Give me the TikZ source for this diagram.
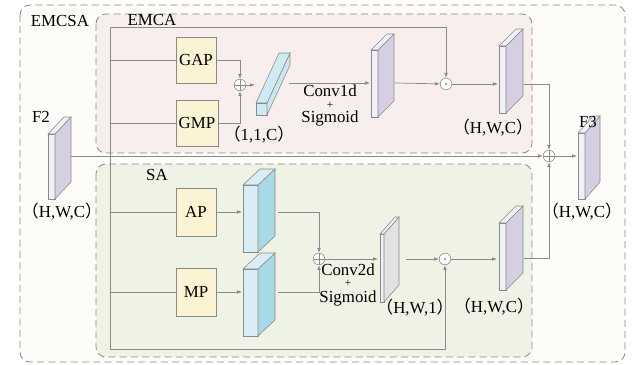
\documentclass[tikz,border=0pt]{standalone}
\usepackage{fontspec}
\setmainfont{Liberation Serif}
\newfontfamily\cjk{Noto Sans CJK SC}
\usetikzlibrary{arrows.meta,calc,positioning}
\definecolor{boxline}{HTML}{8A8A8A}
\definecolor{outerbg}{HTML}{FDFCF9}
\definecolor{emcabg}{HTML}{F8EEEE}
\definecolor{sabg}{HTML}{EFF3E5}
\definecolor{poolbg}{HTML}{FBF3D4}
\definecolor{mapfront}{HTML}{F1F0F6}
\definecolor{mapside}{HTML}{D6CFE2}
\definecolor{bluefront}{HTML}{D8EEF4}
\definecolor{blueside}{HTML}{A9D8E6}
\definecolor{grayside}{HTML}{E2E2E2}
% feature map: x, y (front bottom-left), w, h, dx, dy, front, side
\newcommand{\fmap}[8]{%
  \filldraw[draw=boxline,fill=#7] (#1,#2) rectangle ++(#3,-#4);
  \filldraw[draw=boxline,fill=#8] (#1+#3,#2) -- ++(#5,-#6) -- ++(0,-#4) -- ++(-#5,#6) -- cycle;
  \filldraw[draw=boxline,fill=#7] (#1,#2-#4) -- ++(#5,-#6) -- ++(#3,0) -- ++(-#5,#6) -- cycle;
}
\newcommand{\shape}[1]{{\cjk （}#1{\cjk ）}}

\begin{document}
\begin{tikzpicture}[x=0.025cm,y=-0.025cm,font=\fontsize{12}{12}\selectfont]
\tikzset{>={Latex[length=3.5pt,width=2.6pt]},
  region/.style={draw=boxline, line width=0.6pt, dash pattern=on 5pt off 3pt, rounded corners=7pt},
  pool/.style={draw=boxline, fill=poolbg, minimum width=1cm, minimum height=1.15cm, inner sep=0pt},
  wire/.style={draw=boxline, line width=0.5pt},
  txt/.style={inner sep=0pt},
  oplus/.style={circle, draw=boxline, fill=white, minimum size=0.29cm, inner sep=0pt,
    path picture={\draw[boxline] (path picture bounding box.north) -- (path picture bounding box.south)
      (path picture bounding box.west) -- (path picture bounding box.east);}},
  odot/.style={circle, draw=boxline, fill=white, minimum size=0.29cm, inner sep=0pt,
    path picture={\fill[black!70] (path picture bounding box.center) circle (0.6pt);}}}
\useasboundingbox (0,0) rectangle (632,365);

  % regions
  \draw[region, fill=outerbg] (20,5) rectangle (625,362);
  \draw[region, fill=emcabg] (96,14) rectangle (532,153);
  \draw[region, fill=sabg] (96,164) rectangle (532,357);
  \node (emcsa) at (60,21) {EMCSA};
  \node (emca) at (152,20) {EMCA};
  \node (sa) at (157,175) {SA};

  % feature maps
  \fmap{48}{199}{7}{65}{16}{17}{mapfront}{mapside}
  \fmap{371}{117}{7}{67}{16}{16}{mapfront}{mapside}
  \fmap{499}{113}{7}{67}{17}{17}{mapfront}{mapside}
  \fmap{578}{199}{7}{66}{15}{17}{mapfront}{mapside}
  \fmap{380}{302}{4}{68}{15}{17}{mapfront}{grayside}
  \fmap{499}{290}{7}{67}{17}{17}{mapfront}{mapside}
  \fmap{243}{252}{15}{67}{17}{16}{bluefront}{blueside}
  \fmap{243}{336}{15}{67}{17}{16}{bluefront}{blueside}
  \fmap{256}{115}{11}{12}{23}{50}{bluefront!80!blueside}{blueside!60!white}

  \coordinate (f2out) at (71,156);
  \coordinate (f3in) at (577,156);
  \coordinate (vecin) at (255,85);
  \coordinate (vecout) at (289,83);
  \coordinate (s1in) at (370,83);
  \coordinate (s1out) at (395,83);
  \coordinate (s2in) at (498,84);
  \coordinate (s2out) at (524,84);
  \coordinate (b1in) at (242,212);
  \coordinate (b1out) at (278,212);
  \coordinate (b2in) at (242,292);
  \coordinate (b2out) at (278,292);
  \coordinate (s3in) at (378,259);
  \coordinate (s3out) at (406,259);
  \coordinate (s4in) at (497,259);
  \coordinate (s4out) at (524,258);
  \coordinate (tl) at (110,27);
  \coordinate (bl) at (110,349);

  \node (f2) at (41,117) {F2};
  \node (f3) at (588,122) {F3};
  \node (f2shape) at (62,212) {\shape{H,W,C}};
  \node (f3shape) at (582,212) {\shape{H,W,C}};
  \node (vecshape) at (259,135) {\shape{1,1,C}};
  \node (s2shape) at (493,128) {\shape{H,W,C}};
  \node (s3shape) at (415,308) {\shape{H,W,1}};
  \node (s4shape) at (494,307) {\shape{H,W,C}};

  % pooling
  \node[pool] (gap) at (196,60) {GAP};
  \node[pool, minimum width=1.05cm] (gmp) at (197,123) {GMP};
  \node[pool, minimum height=1.2cm] (ap) at (196,212) {AP};
  \node[pool, minimum height=1.2cm] (mp) at (196,292) {MP};

  \node[oplus] (add1) at (240,85) {};
  \node[oplus] (add2) at (319,259) {};
  \node[oplus] (add3) at (549,156) {};
  \node[odot] (mul1) at (446,84) {};
  \node[odot] (mul2) at (445,259) {};

  \node[txt] (conv1) at (330,91) {Conv1d};
  \node[txt, font=\footnotesize] (plus1) at (330,105) {+};
  \node[txt] (sig1) at (330,118) {Sigmoid};
  \node[txt] (conv2) at (348,270) {Conv2d};
  \node[txt, font=\footnotesize] (plus2) at (348,283.5) {+};
  \node[txt] (sig2) at (348,298) {Sigmoid};

  % connectors
  \draw[wire] (tl) -- (bl);
  \draw[wire,->] (tl) -| (mul1);
  \draw[wire,->] (bl) -| (mul2);
  \draw[wire] (tl |- gap.west) -- (gap.west);
  \draw[wire] (tl |- gmp.west) -- (gmp.west);
  \draw[wire] (tl |- ap.west) -- (ap.west);
  \draw[wire] (tl |- mp.west) -- (mp.west);
  \draw[wire,->] (f2out) -- (add3);
  \draw[wire,->] (gap) -| (add1);
  \draw[wire,->] (gmp) -| (add1);
  \draw[wire,->] (add1) -- (vecin);
  \draw[wire,->] (vecout) -- (s1in);
  \draw[wire,->] (s1out) -- (mul1);
  \draw[wire,->] (mul1) -- (s2in);
  \draw[wire,->] (s2out) -| (add3);
  \draw[wire,->] (ap) -- (b1in);
  \draw[wire,->] (mp) -- (b2in);
  \draw[wire,->] (b1out) -| (add2);
  \draw[wire,->] (b2out) -| (add2);
  \draw[wire,->] (add2) -- (s3in);
  \draw[wire,->] (s3out) -- (mul2);
  \draw[wire,->] (mul2) -- (s4in);
  \draw[wire,->] (s4out) -| (add3);
  \draw[wire,->] (add3) -- (f3in);
\end{tikzpicture}
\end{document}
